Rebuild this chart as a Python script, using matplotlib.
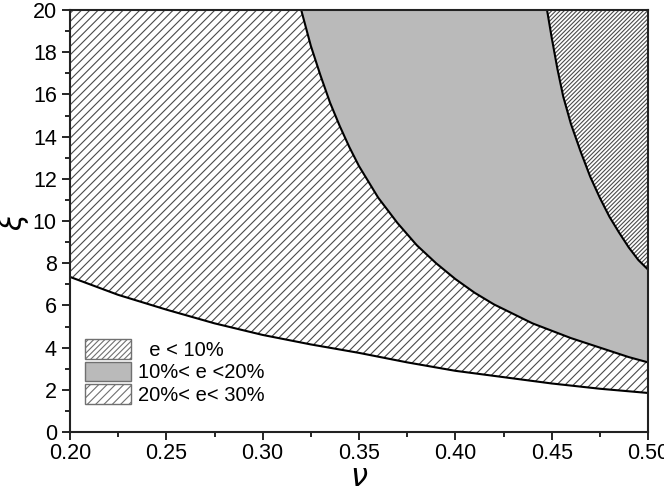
import numpy as np
import matplotlib
matplotlib.use("Agg")
import matplotlib.pyplot as plt
from matplotlib.patches import Patch
from matplotlib.ticker import MultipleLocator, FormatStrFormatter

# batas e < 30% (kurva bawah)
nu_low = [0.200, 0.225, 0.250, 0.275, 0.300, 0.325, 0.350, 0.375, 0.400,
          0.425, 0.450, 0.475, 0.500]
xi_low = [7.35, 6.50, 5.80, 5.15, 4.60, 4.15, 3.75, 3.30, 2.90,
          2.60, 2.30, 2.05, 1.85]

# batas e < 20% (kurva tengah)
nu_mid = [0.320, 0.325, 0.330, 0.335, 0.340, 0.345, 0.350, 0.360, 0.370,
          0.380, 0.390, 0.400, 0.410, 0.420, 0.430, 0.440, 0.450, 0.460,
          0.470, 0.480, 0.490, 0.500]
xi_mid = [20.0, 18.3, 16.9, 15.6, 14.5, 13.5, 12.6, 11.1, 9.9,
          8.85, 8.0, 7.25, 6.6, 6.05, 5.6, 5.15, 4.8, 4.45,
          4.15, 3.85, 3.55, 3.3]

# batas e < 10% (kurva atas)
nu_up = [0.4476, 0.450, 0.453, 0.456, 0.460, 0.465, 0.470, 0.475, 0.480,
         0.485, 0.490, 0.495, 0.500]
xi_up = [20.0, 18.7, 17.2, 15.9, 14.6, 13.3, 12.1, 11.1, 10.2,
         9.45, 8.75, 8.15, 7.7]

labels = ["  e < 10%", "10%< e <20%", "20%< e< 30%"]

XMIN, XMAX = 0.20, 0.50
YMIN, YMAX = 0, 20

GRAY = "#bababa"
HATCH_C = "#4a4a4a"
SPARSE = "////"
DENSE = "////////"
plt.rcParams["hatch.linewidth"] = 0.8
plt.rcParams["font.family"] = ["Liberation Sans", "DejaVu Sans"]

fig = plt.figure(figsize=(6.64, 4.93), dpi=100)
ax = fig.add_axes([70 / 664, 1 - 432 / 493, 578 / 664, 422 / 493])

# daerah 20% < e < 30% : antara kurva bawah dan kurva tengah
px = nu_low + nu_mid[::-1] + [XMIN]
py = xi_low + xi_mid[::-1] + [YMAX]
ax.fill(px, py, facecolor="white", edgecolor=HATCH_C, hatch=SPARSE, lw=0, zorder=1)

# daerah 10% < e < 20% : abu-abu
px = nu_mid + nu_up[::-1]
py = xi_mid + xi_up[::-1]
ax.fill(px, py, facecolor=GRAY, edgecolor=GRAY, lw=0, zorder=1)

# daerah e < 10% : arsir rapat
px = nu_up + [XMAX]
py = xi_up + [YMAX]
ax.fill(px, py, facecolor="white", edgecolor=HATCH_C, hatch=DENSE, lw=0, zorder=1)

for xs, ys in [(nu_low, xi_low), (nu_mid, xi_mid), (nu_up, xi_up)]:
    ax.plot(xs, ys, color="black", lw=1.5, zorder=3)

ax.set_xlim(XMIN, XMAX)
ax.set_ylim(YMIN, YMAX)
ax.xaxis.set_major_locator(MultipleLocator(0.05))
ax.xaxis.set_minor_locator(MultipleLocator(0.025))
ax.xaxis.set_major_formatter(FormatStrFormatter("%.2f"))
ax.yaxis.set_major_locator(MultipleLocator(2))
ax.yaxis.set_minor_locator(MultipleLocator(1))
ax.tick_params(which="both", direction="out", width=1.2, labelsize=15.5,
               top=False, right=False)
ax.tick_params(which="major", length=6)
ax.tick_params(axis="x", which="major", pad=2)
ax.tick_params(which="minor", length=3.5)
for sp in ax.spines.values():
    sp.set_linewidth(1.5)
    sp.set_color("#222222")
    sp.set_zorder(5)

ax.set_xlabel(r"$\nu$", fontsize=22, family="Liberation Serif")
ax.set_ylabel(r"$\xi$", fontsize=22, family="Liberation Serif")
ax.xaxis.set_label_coords(0.5, -0.075)
ax.yaxis.set_label_coords(-0.067, 0.5)

handles = [
    Patch(facecolor="white", edgecolor="#707070", hatch="//////", lw=1.0),
    Patch(facecolor=GRAY, edgecolor="#707070", lw=1.0),
    Patch(facecolor="white", edgecolor="#707070", hatch="////", lw=1.0),
]
ax.legend(handles, labels, loc="upper left", bbox_to_anchor=(0.026, 0.22),
          frameon=False, fontsize=14.5, handlelength=2.3, handleheight=1.12,
          handletextpad=0.35, labelspacing=0.1, borderpad=0, borderaxespad=0)

fig.savefig("out.png", dpi=100, facecolor="white")
